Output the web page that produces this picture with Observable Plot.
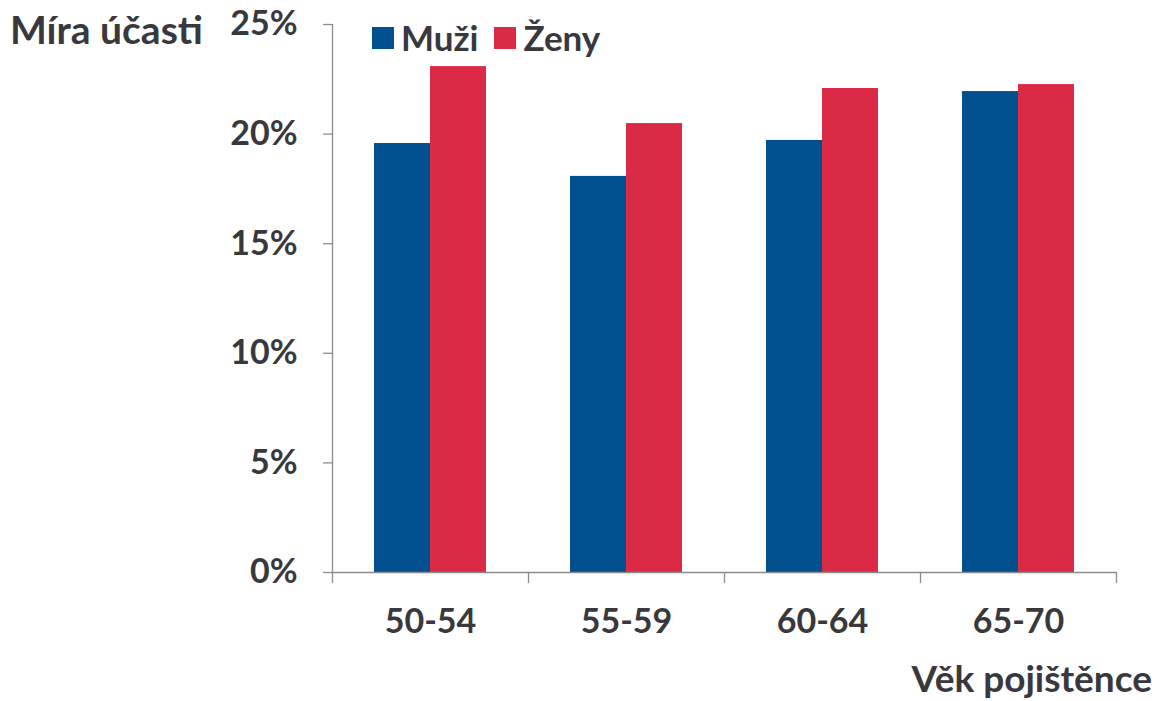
<!DOCTYPE html>
<html>
<head>
<meta charset="utf-8">
<script src="https://cdn.jsdelivr.net/npm/d3@7"></script>
<script src="https://cdn.jsdelivr.net/npm/@observablehq/plot@0.6"></script>
<style>
  html, body { margin: 0; padding: 0; background: #fff; }
  #wrap { position: relative; width: 1156px; height: 701px; overflow: hidden; font-family: Lato, "Open Sans", sans-serif; font-weight: 700; color: #38383d; }
  .lbl { position: absolute; white-space: nowrap; line-height: 1; }
  #title { left: 10px; top: 10px; font-size: 39px; }
  #xtitle { right: 4px; top: 659px; font-size: 37px; }
  #legend { left: 372px; top: 20px; font-size: 35px; display: flex; align-items: center; }
  .sw { display: inline-block; width: 22px; height: 22px; margin-right: 7px; }
  .item { display: flex; align-items: center; margin-right: 16px; }
  svg text { font-family: Lato, "Open Sans", sans-serif; }
</style>
</head>
<body>
<div id="wrap">
  <div id="chart"></div>
  <div id="title" class="lbl">Míra účasti</div>
  <div id="legend" class="lbl"></div>
  <div id="xtitle" class="lbl">Věk pojištěnce</div>
</div>
<script>
const ages = ["50-54", "55-59", "60-64", "65-70"];
const series = ["Muži", "Ženy"];
const muzi = [0.1957, 0.1807, 0.1971, 0.2194];
const zeny = [0.2308, 0.2048, 0.2208, 0.2226];
const yTicks = [0, 0.05, 0.10, 0.15, 0.20, 0.25];
const colors = ["#004f8f", "#db2a46"];

const data = [];
ages.forEach((a, i) => {
  data.push({age: a, sex: series[0], value: muzi[i]});
  data.push({age: a, sex: series[1], value: zeny[i]});
});

const W = 1156, H = 701;
const mL = 332, mR = 40, mT = 24, mB = 129;
const band = (W - mL - mR) / ages.length;
const barW = 56;
const gap = (band - 2 * barW) / 2;

const textColor = "#38383d";
const axisColor = "#8c8c8c";

const plot = Plot.plot({
  width: W,
  height: H,
  marginLeft: mL,
  marginRight: mR,
  marginTop: mT,
  marginBottom: mB,
  style: {fontFamily: "Lato, 'Open Sans', sans-serif", color: textColor, background: "white"},
  x: {domain: ages, padding: 0, axis: null},
  y: {domain: [0, 0.25], axis: null},
  color: {domain: series, range: colors},
  marks: [
    Plot.barY(data.filter(d => d.sex === series[0]), {
      x: "age", y: "value", fill: "sex",
      insetLeft: gap, insetRight: band - gap - barW
    }),
    Plot.barY(data.filter(d => d.sex === series[1]), {
      x: "age", y: "value", fill: "sex",
      insetLeft: gap + barW, insetRight: gap
    }),
    // y axis line
    Plot.ruleX([ages[0]], {x: d => d, y1: 0, y2: 0.25, dx: -band / 2, stroke: axisColor, strokeWidth: 1.3}),
    Plot.axisY({ticks: yTicks, tickFormat: d => Math.round(d * 100) + "%", tickSize: 9, tickPadding: 26,
      fontSize: 34, fontWeight: 700, fill: textColor, stroke: axisColor, strokeWidth: 1.3, label: null}),
    // x axis baseline
    Plot.ruleY([0], {stroke: axisColor, strokeWidth: 1.3}),
    // x ticks at category boundaries
    Plot.ruleX(ages, {x: d => d, y1: 0, y2: 0, dx: -band / 2, insetBottom: -11, stroke: axisColor, strokeWidth: 1.3}),
    Plot.ruleX([ages[ages.length - 1]], {x: d => d, y1: 0, y2: 0, dx: band / 2, insetBottom: -11, stroke: axisColor, strokeWidth: 1.3}),
    Plot.axisX({tickSize: 0, tickPadding: 36, fontSize: 34, fontWeight: 700, fill: textColor, label: null})
  ]
});
document.getElementById("chart").appendChild(plot);

const leg = document.getElementById("legend");
series.forEach((s, i) => {
  const it = document.createElement("span");
  it.className = "item";
  it.innerHTML = `<span class="sw" style="background:${colors[i]}"></span>${s}`;
  leg.appendChild(it);
});
</script>
</body>
</html>
